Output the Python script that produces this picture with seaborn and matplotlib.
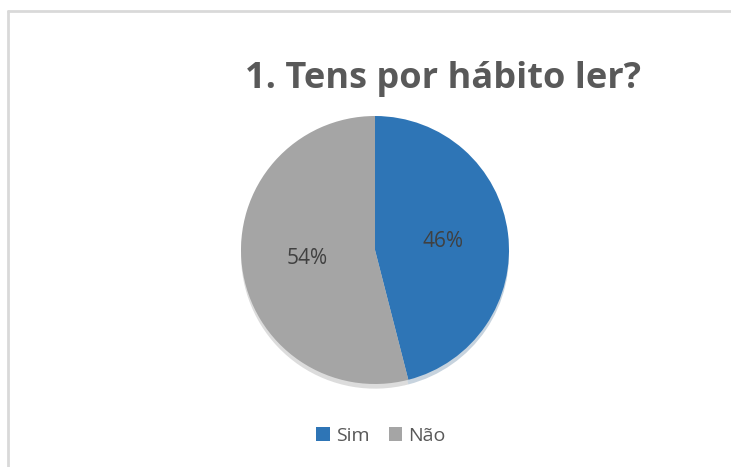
import matplotlib
matplotlib.use("Agg")
import matplotlib.pyplot as plt
from matplotlib.lines import Line2D
import seaborn as sns

# chart data
categories = ['Sim', 'Não']
shares = [46, 54]
slice_colors = ['#2E75B6', '#A5A5A5']
title = '1. Tens por hábito ler?'

sns.set_theme(style="white")
plt.rcParams['font.family'] = ['Open Sans', 'DejaVu Sans']

W, H = 731, 467
fig = plt.figure(figsize=(W / 100, H / 100), dpi=100)
fig.patch.set_facecolor('white')

# chart-area border (only top and left visible in the crop)
border = '#D9D9D9'
fig.add_artist(Line2D([8 / W, 1.0], [1 - 10.5 / H, 1 - 10.5 / H], color=border, lw=2))
fig.add_artist(Line2D([8 / W, 8 / W], [0.0, 1 - 10.5 / H], color=border, lw=2))

cx, cy, r = 375, 250, 134
ax = fig.add_axes([(cx - r) / W, (H - cy - r) / H, 2 * r / W, 2 * r / H])

wedges, texts, autotexts = ax.pie(
    shares, colors=slice_colors, startangle=90, counterclock=False,
    autopct='%1.0f%%', pctdistance=0.51,
    shadow={'ox': 0.0, 'oy': -0.025, 'shade': 0.3, 'alpha': 0.25},
    wedgeprops={'linewidth': 0, 'edgecolor': 'none'},
    textprops={'color': '#404040', 'fontsize': 15},
)
ax.set_xlim(-1, 1)
ax.set_ylim(-1, 1)
ax.set_aspect('equal')
ax.axis('off')

fig.text(443 / W, 1 - 79 / H, title, ha='center', va='center',
         fontsize=26, fontweight='bold', color='#595959')

fig.legend(wedges, categories, loc='center', bbox_to_anchor=(381 / W, 1 - 436 / H),
           ncol=2, frameon=False, handlelength=0.7, handleheight=0.7,
           handletextpad=0.3, columnspacing=1.0,
           prop={'size': 14}, labelcolor='#595959')

fig.savefig('out.png', dpi=100)
